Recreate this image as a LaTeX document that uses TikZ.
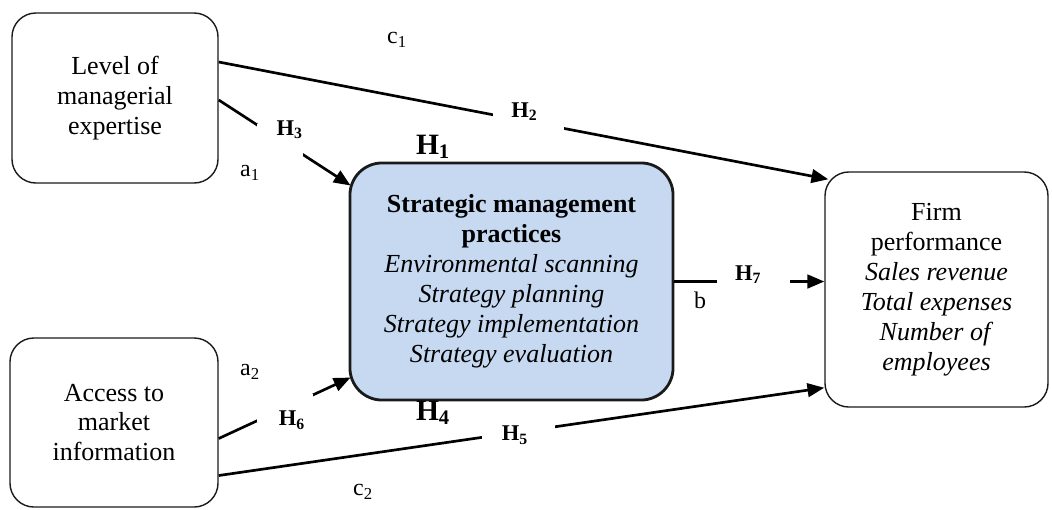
\documentclass[tikz,border=0pt]{standalone}
\usepackage{fontspec}
\setmainfont{Liberation Serif}
\usepackage{xcolor}
\usepackage{tikz}
\usetikzlibrary{arrows.meta,calc}
\definecolor{accent}{HTML}{1A1A1A}
\definecolor{soft}{HTML}{C6D9F1}

\begin{document}
\begin{tikzpicture}[x=0.025cm,y=-0.025cm,
  vb/.style={draw=accent,line width=1pt,rounded corners=0.6cm,fill=white,align=center,
    inner sep=0pt,font=\fontsize{18.5}{21.3}\selectfont},
  cb/.style={vb,line width=2pt,fill=soft,rounded corners=0.8cm},
  lnk/.style={line width=1.9pt,-{Triangle[length=0.42cm,width=0.34cm]}},
  gap/.style 2 args={fill=white,inner sep=0pt,minimum width=#1,minimum height=#2},
  hl/.style={inner sep=0pt,font=\fontsize{16}{18}\selectfont\bfseries},
  hb/.style={inner sep=0pt,font=\fontsize{21}{24}\selectfont\bfseries},
  gl/.style={inner sep=0pt,font=\fontsize{17}{19}\selectfont}]
  \useasboundingbox (0,0) rectangle (1052,509);
  % Constructs
  \node[vb,minimum width=5.15cm,minimum height=4.25cm] (lme) at (115,98)
    {Level of\\managerial\\expertise};
  \node[vb,minimum width=5.2cm,minimum height=4.225cm] (ami) at (114,422.5)
    {Access to\\market\\information};
  \node[cb,minimum width=8.075cm,minimum height=5.925cm] (smp) at (511.5,281.5)
    {\textbf{Strategic management}\\\textbf{practices}\\\textit{Environmental scanning}\\
     \textit{Strategy planning}\\\textit{Strategy implementation}\\\textit{Strategy evaluation}};
  \node[vb,minimum width=5.575cm,minimum height=5.875cm] (fp) at (936.5,289.5)
    {Firm\\performance\\\textit{Sales revenue}\\\textit{Total expenses}\\
     \textit{Number of}\\\textit{employees}};
  % Hypothesised paths
  \draw[lnk] ([yshift=0.9cm]lme.east) -- node[gap={1.775cm}{0.5cm},pos=0.508,
    label={[hl,xshift=-0.1cm,yshift=0.25cm]center:H\textsubscript{2}}] {}
    ([xshift=0.1cm,yshift=-0.2cm]fp.north west);
  \draw[lnk] ([yshift=-0.05cm]lme.east) -- node[gap={1.15cm}{0.8cm},pos=0.463,
    label={[hl,xshift=0.25cm,yshift=0.25cm]center:H\textsubscript{3}}] {}
    ([xshift=0.05cm,yshift=2.4cm]smp.west);
  \draw[lnk] ([yshift=-0.4cm]ami.east) -- node[gap={1.4cm}{0.7cm},pos=0.5,
    label={[hl,xshift=0.18cm,yshift=-0.3cm]center:H\textsubscript{6}}] {}
    ([xshift=0.05cm,yshift=-2.4cm]smp.west);
  \draw[lnk] ([yshift=-1.325cm]ami.east) -- node[gap={1.825cm}{0.5cm},pos=0.495,
    label={[hl,xshift=-0.09cm,yshift=-0.08cm]center:H\textsubscript{5}}] {}
    ([yshift=0.5cm]fp.south west);
  \draw[lnk] (smp.east) -- node[gap={1.825cm}{0.5cm},pos=0.53,
    label={[hl,xshift=-0.14cm,yshift=0.17cm]center:H\textsubscript{7}}] {}
    (smp.east -| fp.west);
  % Path labels
  \node[hb] (h1) at (433,147) {H\textsubscript{1}};
  \node[hb] (h4) at (433,413) {H\textsubscript{4}};
  \node[gl] (c1) at (397,40) {c\textsubscript{1}};
  \node[gl] (c2) at (363,492) {c\textsubscript{2}};
  \node[gl] (a1) at (250,173) {a\textsubscript{1}};
  \node[gl] (a2) at (250,372) {a\textsubscript{2}};
  \node[gl] (b) at (700,300) {b};
\end{tikzpicture}
\end{document}
